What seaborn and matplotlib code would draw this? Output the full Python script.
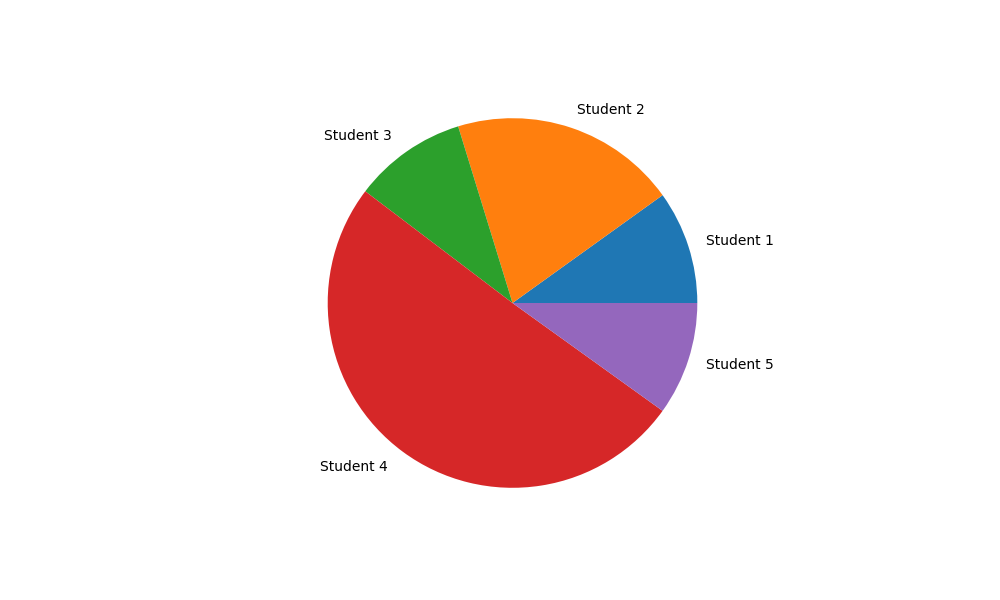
import matplotlib
matplotlib.use("Agg")
import matplotlib.pyplot as plt
import seaborn as sns

students = ["Student 1 ", "Student 2 ", "Student 3 ", "Student 4 ", "Student 5 "]
scores = [12, 24, 12, 61, 12]


def main():
    plt.rcParams["font.family"] = ["DejaVu Sans"]
    colors = sns.color_palette("tab10", len(students))

    fig, ax = plt.subplots(figsize=(10, 6), dpi=100)
    ax.pie(scores, labels=students, colors=colors,
           textprops={"color": "black", "fontsize": 10})
    fig.savefig("out.png")
    plt.close(fig)


if __name__ == "__main__":
    main()
